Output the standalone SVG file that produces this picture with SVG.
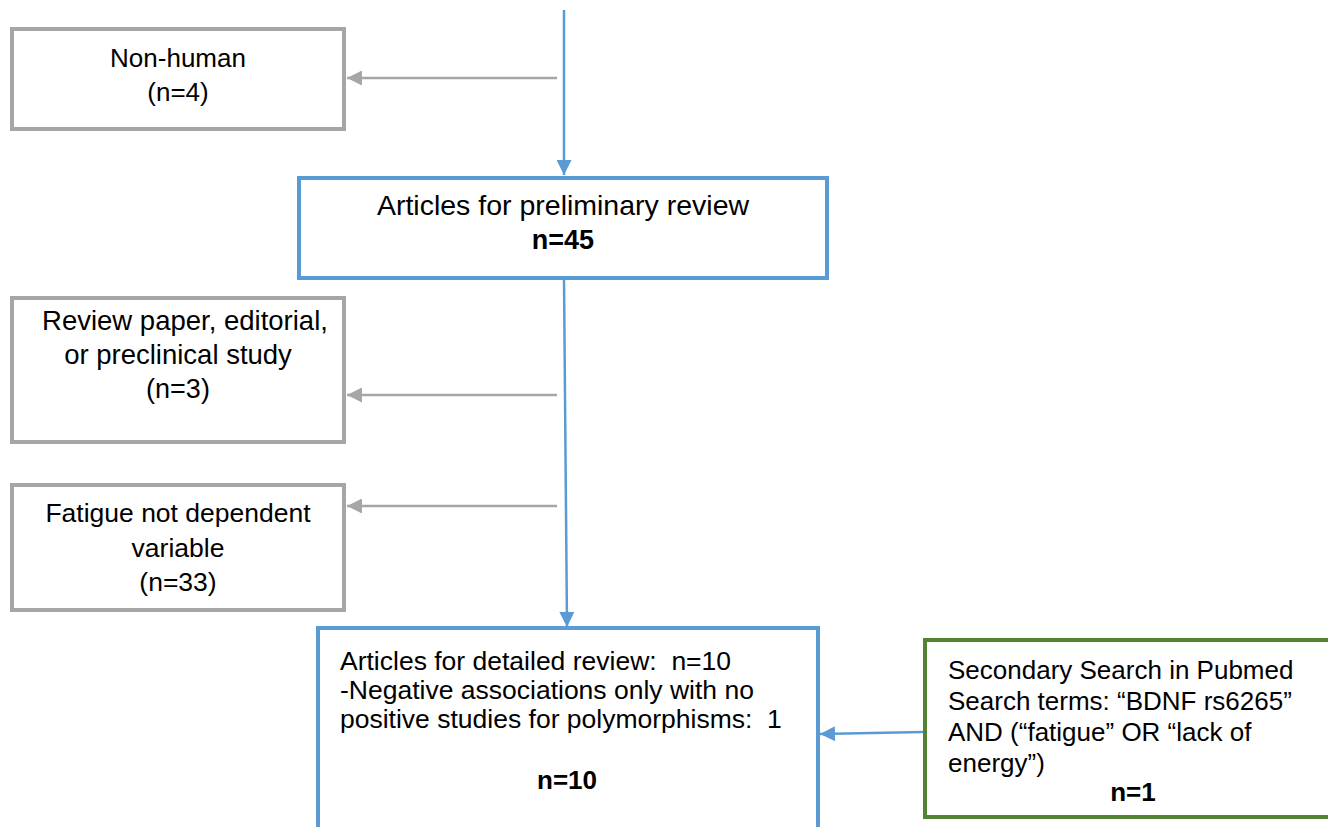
<svg xmlns="http://www.w3.org/2000/svg" width="1328" height="827" viewBox="0 0 1328 827">
<style>
text{font-family:"Liberation Sans",Arial,sans-serif;font-size:26px;fill:#000}
.c{text-anchor:middle}
.b{font-weight:bold}
.gray{fill:#fff;stroke:#a6a6a6;stroke-width:4}
.blue{fill:#fff;stroke:#5b9bd5;stroke-width:4}
.green{fill:#fff;stroke:#548235;stroke-width:4}
.gl{stroke:#a6a6a6;stroke-width:2.5;fill:none}
.bl{stroke:#5b9bd5;stroke-width:2.5;fill:none}
</style>
<defs>
<marker id="ag" viewBox="0 0 10 10" refX="10" refY="5" markerWidth="6" markerHeight="6" markerUnits="strokeWidth" orient="auto"><path d="M0,0L10,5L0,10z" fill="#a6a6a6"/></marker>
<marker id="ab" viewBox="0 0 10 10" refX="10" refY="5" markerWidth="6" markerHeight="6" markerUnits="strokeWidth" orient="auto"><path d="M0,0L10,5L0,10z" fill="#5b9bd5"/></marker>
</defs>
<rect width="1328" height="827" fill="#fff"/>
<g id="connectors">
<line class="bl" x1="564" y1="10" x2="564" y2="175" marker-end="url(#ab)"/>
<line class="gl" x1="557" y1="78" x2="347" y2="78" marker-end="url(#ag)"/>
<line class="bl" x1="564" y1="278" x2="567" y2="627" marker-end="url(#ab)"/>
<line class="gl" x1="557" y1="395" x2="347" y2="395" marker-end="url(#ag)"/>
<line class="gl" x1="557" y1="506" x2="347" y2="506" marker-end="url(#ag)"/>
<line class="bl" x1="923" y1="732" x2="820" y2="734" marker-end="url(#ab)"/>
</g>
<g id="nonhuman">
<rect class="gray" x="12" y="29" width="332" height="100"/>
<text class="c" x="178" y="67">Non-human</text>
<text class="c" x="178" y="101">(n=4)</text>
</g>
<g id="prelim" style="font-size:28.5px">
<rect class="blue" x="299" y="178" width="528" height="100"/>
<text class="c" x="563" y="215" style="font-size:28.5px">Articles for preliminary review</text>
<text class="c b" x="563" y="249" style="font-size:27px">n=45</text>
</g>
<g id="review">
<rect class="gray" x="12" y="298" width="332" height="144"/>
<text class="c" x="185" y="330" style="font-size:27.5px">Review paper, editorial,</text>
<text class="c" x="178" y="364" style="font-size:27.5px">or preclinical study</text>
<text class="c" x="178" y="398" style="font-size:27px">(n=3)</text>
</g>
<g id="fatigue">
<rect class="gray" x="12" y="485" width="332" height="125"/>
<text class="c" x="178" y="522" style="font-size:26.5px">Fatigue not dependent</text>
<text class="c" x="178" y="557" style="font-size:26.5px">variable</text>
<text class="c" x="178" y="591" style="font-size:26.5px">(n=33)</text>
</g>
<g id="detailed">
<rect class="blue" x="318" y="628" width="500" height="220"/>
<text x="340" y="670" xml:space="preserve" style="font-size:26.5px">Articles for detailed review:  n=10</text>
<text x="340" y="699" style="font-size:26.5px">-Negative associations only with no</text>
<text x="340" y="728" xml:space="preserve" style="font-size:26.5px">positive studies for polymorphisms:  1</text>
<text class="c b" x="567" y="789">n=10</text>
</g>
<g id="secondary">
<rect class="green" x="925" y="640" width="420" height="177"/>
<text x="948" y="679">Secondary Search in Pubmed</text>
<text x="948" y="710">Search terms: “BDNF rs6265”</text>
<text x="948" y="741">AND (“fatigue” OR “lack of</text>
<text x="948" y="772">energy”)</text>
<text class="c b" x="1133" y="801">n=1</text>
</g>
</svg>
